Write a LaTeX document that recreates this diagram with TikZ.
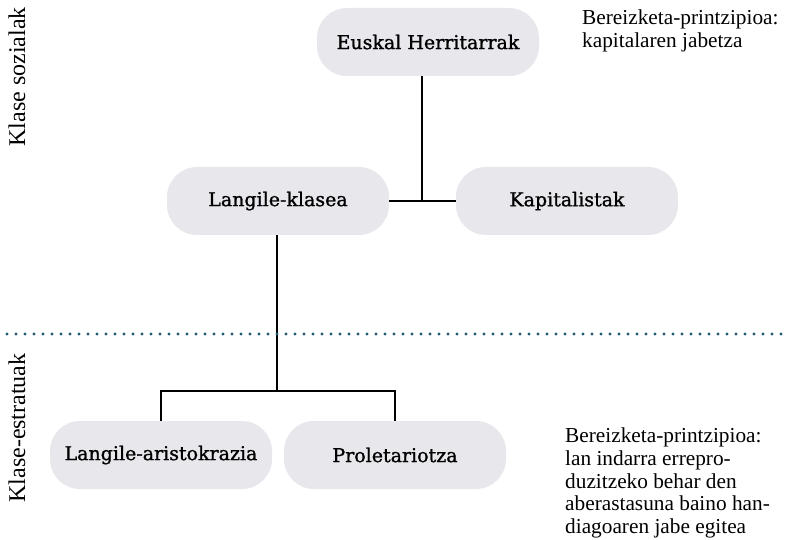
\documentclass[tikz,border=0pt]{standalone}
\usepackage{fontspec}
\setmainfont{Liberation Serif}
\newfontfamily\nodefont[FakeBold=1.2]{DejaVu Serif}
\begin{document}
\begin{tikzpicture}[x=1pt,y=1pt,
  classbox/.style={draw=none, fill=boxgray, rounded corners=30pt,
    minimum width=222pt, minimum height=68pt, inner sep=0pt,
    font=\nodefont\fontsize{19}{22}\selectfont, text=black},
  conn/.style={draw=black, line width=2pt},
  note/.style={anchor=north west, inner sep=0pt, align=left,
    font=\fontsize{21.3}{22.6}\selectfont, text=black},
  sidelabel/.style={rotate=90, inner sep=0pt, font=\fontsize{24}{26}\selectfont, text=black}]
\definecolor{boxgray}{HTML}{E8E8EC}
\definecolor{dotteal}{HTML}{1D5A70}
\useasboundingbox (0,0) rectangle (785,-540);

\node[classbox] (eh)  at (428,-42)  {Euskal Herritarrak};
\node[classbox] (lk)  at (278,-201) {Langile-klasea};
\node[classbox] (kap) at (567,-201) {Kapitalistak};
\node[classbox] (la)  at (161,-455) {Langile-aristokrazia};
\node[classbox] (pr)  at (395,-455) {Proletariotza};

\coordinate (j1) at (422,-202);
\coordinate (j2) at (277,-391);
\coordinate (dl) at (7,-334);
\coordinate (dr) at (785,-334);

\draw[conn] (eh.south -| j1) -- (j1);
\draw[conn] (lk.east) -- (kap.west);
\draw[conn] (lk.south -| j2) -- (j2);
\draw[conn] (la.north) |- (j2) -| (pr.north);

\draw[dotteal, line width=3.2pt, line cap=round, dash pattern=on 0pt off 9pt] (dl) -- (dr);

\node[note] (n1) at (582,-9.5) {Bereizketa-printzipioa:\\kapitalaren jabetza};
\node[note] (n2) at (565,-428) {Bereizketa-printzipioa:\\lan indarra errepro-\\duzitzeko behar den\\aberastasuna baino han-\\diagoaren jabe egitea};

\node[sidelabel] (s1) at (17,-77) {Klase sozialak};
\node[sidelabel] (s2) at (17,-428) {Klase-estratuak};
\end{tikzpicture}
\end{document}
